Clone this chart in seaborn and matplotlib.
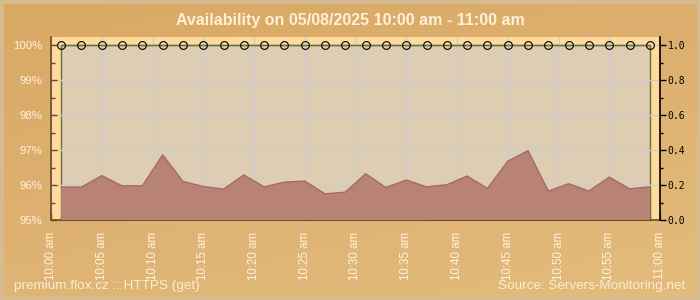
import numpy as np
import pandas as pd
import matplotlib
matplotlib.use("Agg")
import matplotlib.pyplot as plt
from matplotlib.ticker import FixedLocator, MultipleLocator, FixedFormatter
from matplotlib.colors import LinearSegmentedColormap
from matplotlib.patches import Rectangle
import seaborn as sns

# ---------------- data ----------------
times = ["10:01", "10:03", "10:05", "10:07", "10:09", "10:11", "10:13", "10:15",
         "10:17", "10:19", "10:21", "10:23", "10:25", "10:27", "10:29", "10:31",
         "10:33", "10:35", "10:37", "10:39", "10:41", "10:43", "10:45", "10:47",
         "10:49", "10:51", "10:53", "10:55", "10:57", "10:59"]
availability = [100, 100, 100, 100, 100, 100, 100, 100, 100, 100,
                100, 100, 100, 100, 100, 100, 100, 100, 100, 100,
                100, 100, 100, 100, 100, 100, 100, 100, 100, 100]
response = [0.190, 0.190, 0.255, 0.197, 0.197, 0.374, 0.222, 0.193, 0.178, 0.259,
            0.191, 0.218, 0.224, 0.151, 0.161, 0.266, 0.187, 0.230, 0.191, 0.203,
            0.253, 0.182, 0.337, 0.398, 0.167, 0.209, 0.167, 0.247, 0.180, 0.191]
x_tick_minutes = [0, 5, 10, 15, 20, 25, 30, 35, 40, 45, 50, 55, 60]
x_tick_labels = ["10:00 am", "10:05 am", "10:10 am", "10:15 am", "10:20 am",
                 "10:25 am", "10:30 am", "10:35 am", "10:40 am", "10:45 am",
                 "10:50 am", "10:55 am", "11:00 am"]
left_ticks = [95, 96, 97, 98, 99, 100]
left_labels = ["95%", "96%", "97%", "98%", "99%", "100%"]
right_ticks = [0.0, 0.2, 0.4, 0.6, 0.8, 1.0]
right_labels = ["0.0", "0.2", "0.4", "0.6", "0.8", "1.0"]
title = "Availability on 05/08/2025 10:00 am - 11:00 am"
footer_left = "premium.flox.cz :: HTTPS (get)"
footer_right = "Source: Servers-Monitoring.net"

minutes = [(int(t.split(":")[0]) - 10) * 60 + int(t.split(":")[1]) for t in times]
df = pd.DataFrame({"minute": minutes, "availability": availability, "response": response})

# ---------------- style ----------------
sns.set_theme(style="ticks")
plt.rcParams["font.family"] = ["Liberation Sans", "DejaVu Sans"]

CREAM = "#FFF3DE"
OLIVE = "#6C7033"
BROWN = "#6B4A20"

fig = plt.figure(figsize=(7, 3), dpi=100)

# background gradient
bg = fig.add_axes([0, 0, 1, 1], zorder=-10)
cmap = LinearSegmentedColormap.from_list("bgc", ["#D9A963", "#DEB171", "#E3BC7C"])
gx, gy = np.meshgrid(np.linspace(0, 1, 200), np.linspace(0, 1, 100))
bg.imshow(0.35 * gx + 0.65 * gy, extent=[0, 1, 0, 1], aspect="auto", cmap=cmap,
          origin="upper")
bg.add_patch(Rectangle((0, 0), 1, 1, transform=bg.transAxes, fill=False,
                       edgecolor="#D6BA90", lw=5))
bg.set_xlim(0, 1)
bg.set_ylim(0, 1)
bg.axis("off")

W, H = 700, 300
ax = fig.add_axes([51 / W, 1 - 220.3 / H, 609 / W, (220.3 - 36.7) / H])
ax.set_facecolor("#FFDA9F")

# availability area + line with markers
ax.fill_between(df["minute"], 95, df["availability"], facecolor="#DDCDB3",
                edgecolor=OLIVE, lw=1, zorder=1)
sns.lineplot(data=df, x="minute", y="availability", ax=ax, color=OLIVE, lw=1,
             marker="o", markersize=5.6, markerfacecolor="none",
             markeredgecolor="black", markeredgewidth=0.8, zorder=3)

ax.set_xlim(0, 60)
ax.set_ylim(95, 100.246)
ax.set_xlabel("")
ax.set_ylabel("")
ax.set_axisbelow("line")
ax.grid(True, which="major", color="#CECBCF", lw=1)

ax.xaxis.set_major_locator(FixedLocator(x_tick_minutes))
ax.xaxis.set_major_formatter(FixedFormatter(x_tick_labels))
ax.xaxis.set_minor_locator(MultipleLocator(1))
ax.yaxis.set_major_locator(FixedLocator(left_ticks))
ax.yaxis.set_major_formatter(FixedFormatter(left_labels))
ax.yaxis.set_minor_locator(MultipleLocator(0.5))

ax.tick_params(axis="x", which="major", direction="in", length=5, width=1,
               color=OLIVE, labelsize=8.3, labelcolor=CREAM, rotation=90, pad=8)
ax.tick_params(axis="x", which="minor", direction="in", length=3, width=1, color=OLIVE)
ax.tick_params(axis="y", which="major", direction="in", length=4, width=1,
               color=BROWN, labelsize=8.2, labelcolor=CREAM, pad=6.5)
ax.tick_params(axis="y", which="minor", direction="in", length=3, width=1, color=BROWN)
for s in ["top", "right"]:
    ax.spines[s].set_visible(False)
ax.spines["left"].set_color(BROWN)
ax.spines["bottom"].set_color(BROWN)
ax.spines["left"].set_linewidth(1.2)
ax.spines["bottom"].set_linewidth(1.2)

# response area on the secondary scale
ax2 = ax.twinx()
ax2.fill_between(df["minute"], 0, df["response"], facecolor="#B98277",
                 edgecolor="none", zorder=2)
sns.lineplot(data=df, x="minute", y="response", ax=ax2, color="#A86A60", lw=1)
ax2.set_ylim(0, 1.049)
ax2.set_xlim(0, 60)
ax2.set_ylabel("")
ax2.yaxis.set_major_locator(FixedLocator(right_ticks))
ax2.yaxis.set_major_formatter(FixedFormatter(right_labels))
ax2.yaxis.set_minor_locator(MultipleLocator(0.1))
ax2.tick_params(axis="y", which="major", direction="out", length=4, width=1,
                color="black", labelsize=7, labelcolor="black", pad=1.5)
ax2.tick_params(axis="y", which="minor", direction="out", length=2.5, width=1,
                color="black")
for lbl in ax2.get_yticklabels():
    lbl.set_fontfamily("DejaVu Sans Mono")
for s in ["top", "left", "bottom"]:
    ax2.spines[s].set_visible(False)
ax2.spines["right"].set_color("black")
ax2.spines["right"].set_linewidth(1.2)

# texts
fig.text(0.5, 1 - 21 / H, title, ha="center", va="center", fontsize=11.5,
         fontweight="bold", color="#FFF0D6")
fig.text(14 / W, 1 - 286 / H, footer_left, ha="left", va="center", fontsize=9.7,
         color=CREAM, alpha=0.9)
fig.text(685 / W, 1 - 286 / H, footer_right, ha="right", va="center", fontsize=9.7,
         color=CREAM, alpha=0.9)

fig.savefig("out.png", dpi=100)
